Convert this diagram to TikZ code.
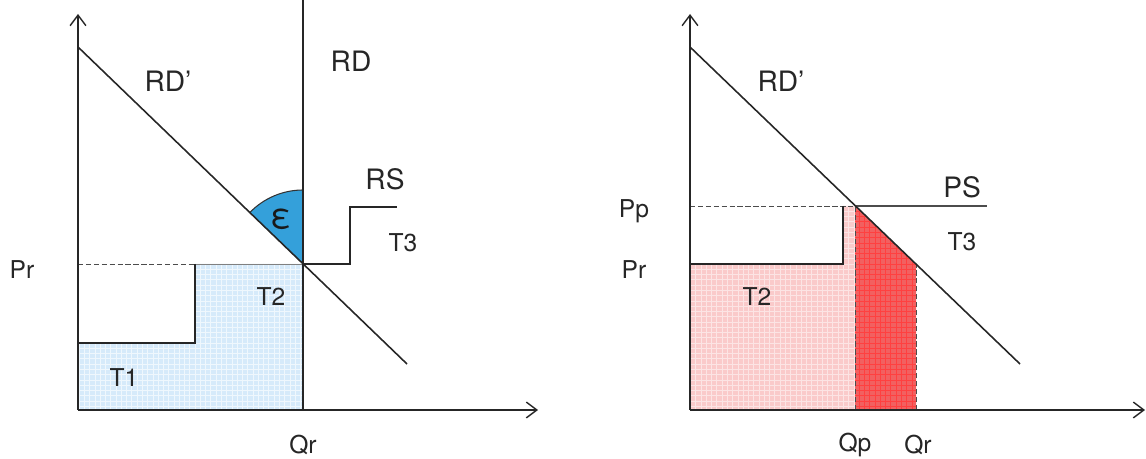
\documentclass[tikz,border=0pt]{standalone}
\usepackage{fontspec}
\setmainfont{TeX Gyre Heros}
\usepackage{xcolor}
\usetikzlibrary{arrows.meta, patterns}

\definecolor{sectorblue}{RGB}{52,160,218}
\definecolor{paleblue}{RGB}{214,234,250}
\definecolor{palered}{RGB}{250,202,202}
\definecolor{deepred}{RGB}{242,96,96}

\begin{document}
\begin{tikzpicture}[
  x=0.02cm, y=0.02cm,
  axis/.style={line width=0.9pt, draw=black!85, -{Straight Barb[length=6pt, width=9pt, line width=0.8pt]}},
  curve/.style={line width=0.9pt, draw=black!85},
  guide/.style={line width=0.5pt, draw=black!70, dashed, dash pattern=on 3pt off 1.5pt},
  big/.style={font=\fontsize{16}{18}\selectfont, text=black!85, inner sep=1pt},
  small/.style={font=\fontsize{14}{16}\selectfont, text=black!85, inner sep=1pt}
]
  \useasboundingbox (0,0) rectangle (1146,459);

  % Left panel
  \coordinate (l_o) at (78,49);
  \coordinate (l_ytop) at (78,445);
  \coordinate (l_xend) at (538,49);
  \coordinate (l_eq) at (303,195);
  \coordinate (l_dtop) at (78,412);
  \coordinate (l_dbot) at (407,95);
  \coordinate (l_rdbot) at (303,49);
  \coordinate (l_rdtop) at (303,459);
  \coordinate (l_box) at (195,116);
  \coordinate (l_pr) at (78,195);

  \fill[paleblue] (78,49) -- (78,116) -- (195,116) -- (195,195) -- (303,195) -- (303,49) -- cycle;
  \fill[pattern=grid, pattern color=white!60!paleblue] (78,49) -- (78,116) -- (195,116) -- (195,195) -- (303,195) -- (303,49) -- cycle;
  \fill[sectorblue] (l_eq) -- ++(90:74) arc[start angle=90, end angle=136, radius=74] -- cycle;
  \draw[line width=0.6pt, draw=black!80] (l_eq) ++(90:74) arc[start angle=90, end angle=136, radius=74];

  \draw[guide] (l_pr) -- (195,195);
  \draw[line width=0.5pt, draw=black!50] (195,195) -- (l_eq);
  \draw[curve] (78,116) -- (l_box) -- (195,195);
  \draw[curve] (l_dtop) -- (l_dbot);
  \draw[curve] (l_rdbot) -- (l_rdtop);
  \draw[curve] (l_eq) -- (350,195) -- (350,252) -- (397,252);
  \draw[axis] (l_o) -- (l_ytop);
  \draw[axis] (l_o) -- (l_xend);

  \node[big] (l_rdp) at (168,378) {RD’};
  \node[big] (l_rd) at (351,398) {RD};
  \node[big] (l_rs) at (385,280) {RS};
  \node[small] (l_t3) at (403,216) {T3};
  \node[small] (l_t2) at (271,162) {T2};
  \node[small] (l_t1) at (124,81) {T1};
  \node[small] (l_prl) at (22,189) {Pr};
  \node[small] (l_qr) at (303,14) {Qr};
  \node[font=\fontsize{20}{22}\selectfont, text=black!90] (l_eps) at (281,240) {ε};

  % Right panel
  \coordinate (r_o) at (690,49);
  \coordinate (r_ytop) at (690,445);
  \coordinate (r_xend) at (1145,49);
  \coordinate (r_eq) at (855,253);
  \coordinate (r_dtop) at (690,412);
  \coordinate (r_dbot) at (1020,95);
  \coordinate (r_ps) at (987,253);
  \coordinate (r_pp) at (690,253);
  \coordinate (r_cut) at (916,195);
  \coordinate (r_qp) at (855,49);
  \coordinate (r_qr) at (916,49);

  \fill[palered] (690,49) -- (690,195) -- (843,195) -- (843,253) -- (r_eq) -- (r_qp) -- cycle;
  \fill[pattern=grid, pattern color=white!50!palered] (690,49) -- (690,195) -- (843,195) -- (843,253) -- (r_eq) -- (r_qp) -- cycle;
  \fill[deepred] (r_qp) -- (r_eq) -- (r_cut) -- (r_qr) -- cycle;
  \fill[pattern=grid, pattern color=red!75] (r_qp) -- (r_eq) -- (r_cut) -- (r_qr) -- cycle;

  \draw[guide] (r_pp) -- (r_eq);
  \draw[guide] (r_qp) -- (r_eq);
  \draw[guide] (r_qr) -- (r_cut);
  \draw[curve] (690,195) -- (843,195) -- (843,253);
  \draw[line width=0.6pt, draw=black!70] (r_eq) -- (r_ps);
  \draw[curve] (r_dtop) -- (r_dbot);
  \draw[axis] (r_o) -- (r_ytop);
  \draw[axis] (r_o) -- (r_xend);

  \node[big] (r_rdp) at (781,378) {RD’};
  \node[big] (r_psl) at (962,272) {PS};
  \node[small] (r_t3) at (962,217) {T3};
  \node[small] (r_t2) at (757,162) {T2};
  \node[small] (r_ppl) at (634,248) {Pp};
  \node[small] (r_prl) at (634,189) {Pr};
  \node[small] (r_qpl) at (855,14) {Qp};
  \node[small] (r_qrl) at (918,14) {Qr};

\end{tikzpicture}
\end{document}
